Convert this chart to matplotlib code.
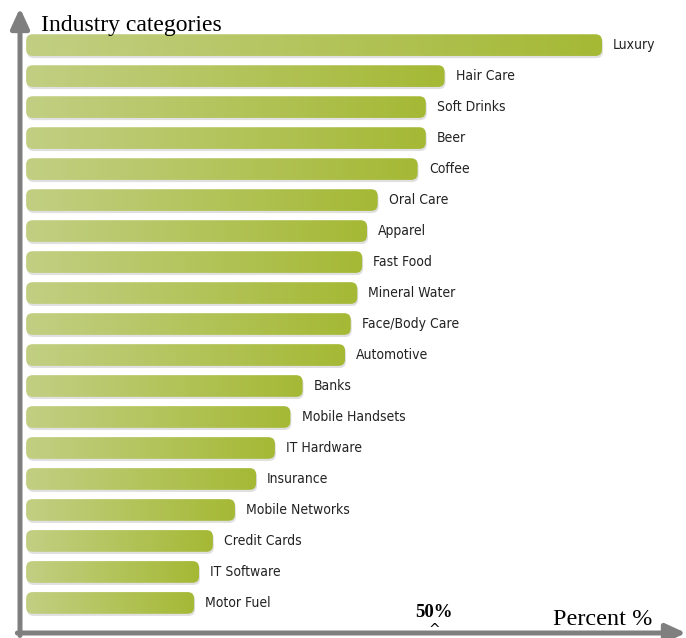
import matplotlib.pyplot as plt
import numpy as np
from matplotlib.patches import FancyBboxPatch
from matplotlib.colors import LinearSegmentedColormap

industries = ['Luxury', 'Hair Care', 'Soft Drinks', 'Beer', 'Coffee', 'Oral Care',
              'Apparel', 'Fast Food', 'Mineral Water', 'Face/Body Care', 'Automotive',
              'Banks', 'Mobile Handsets', 'IT Hardware', 'Insurance', 'Mobile Networks',
              'Credit Cards', 'IT Software', 'Motor Fuel']
percent = [70.6, 51.3, 49.0, 49.0, 48.0, 43.1, 41.8, 41.2, 40.6, 39.8, 39.1,
           33.9, 32.4, 30.5, 28.2, 25.6, 22.9, 21.2, 20.6]

fig = plt.figure(figsize=(6.86, 6.38), dpi=100)
ax = fig.add_axes([20 / 686, 5 / 638, 666 / 686, 613 / 638])

ypos = np.arange(len(industries))[::-1]
bars = ax.barh(ypos, percent, height=0.7, color='none')

cmap = LinearSegmentedColormap.from_list('grn', ['#c2cf83', '#a5b935'])
grad = np.linspace(0, 1, 256).reshape(1, -1)
rx = 0.8                    # corner rounding in x data units
aspect = 8.16 / 31          # px per % / px per bar slot

for b, name in zip(bars, industries):
    x0, y0 = b.get_x(), b.get_y()
    w, h = b.get_width(), b.get_height()
    shadow = FancyBboxPatch((x0 + 0.12, y0 - 0.07), w, h,
                            boxstyle=f'round,pad=0,rounding_size={rx}',
                            mutation_aspect=aspect, fc='#d4d4d4', ec='none',
                            alpha=0.7, zorder=1)
    ax.add_patch(shadow)
    patch = FancyBboxPatch((x0, y0), w, h,
                           boxstyle=f'round,pad=0,rounding_size={rx}',
                           mutation_aspect=aspect, fc='none', ec='none', zorder=2)
    ax.add_patch(patch)
    im = ax.imshow(grad, cmap=cmap, extent=(x0, x0 + w, y0, y0 + h),
                   aspect='auto', zorder=2)
    im.set_clip_path(patch)
    ax.annotate(name, (x0 + w, y0 + h / 2), xytext=(8, 0), textcoords='offset points',
                va='center', ha='left', fontsize=10, color='#222222',
                family='DejaVu Sans', fontstretch='condensed')

ax.set_xlim(-0.75, 80.9)
ax.set_ylim(-0.97, 18.81)
ax.axis('off')

# axis arrows
arrow = dict(arrowstyle='-|>,head_length=1.2,head_width=0.55', color='#7f7f7f',
             lw=3.6, shrinkA=0, shrinkB=0, mutation_scale=10)
ax.annotate('', xy=(0, 1.0196), xytext=(0, -0.004), xycoords='axes fraction',
            arrowprops=arrow, annotation_clip=False)
ax.annotate('', xy=(1.0, 0), xytext=(-0.004, 0), xycoords='axes fraction',
            arrowprops=arrow, annotation_clip=False)

fig.text(41 / 686, 1 - 31 / 638, 'Industry categories', fontsize=17,
         family='Liberation Serif', va='baseline', ha='left')
fig.text(553 / 686, 1 - 625 / 638, 'Percent %', fontsize=17.5,
         family='Liberation Serif', va='baseline', ha='left')
fig.text(434 / 686, 1 - 617 / 638, '50%', fontsize=13.5, fontweight='bold',
         family='Liberation Serif', va='baseline', ha='center')
fig.text(434 / 686, 1 - 634 / 638, '^', fontsize=10,
         family='DejaVu Sans', va='baseline', ha='center')

fig.savefig('out.png', dpi=100)
